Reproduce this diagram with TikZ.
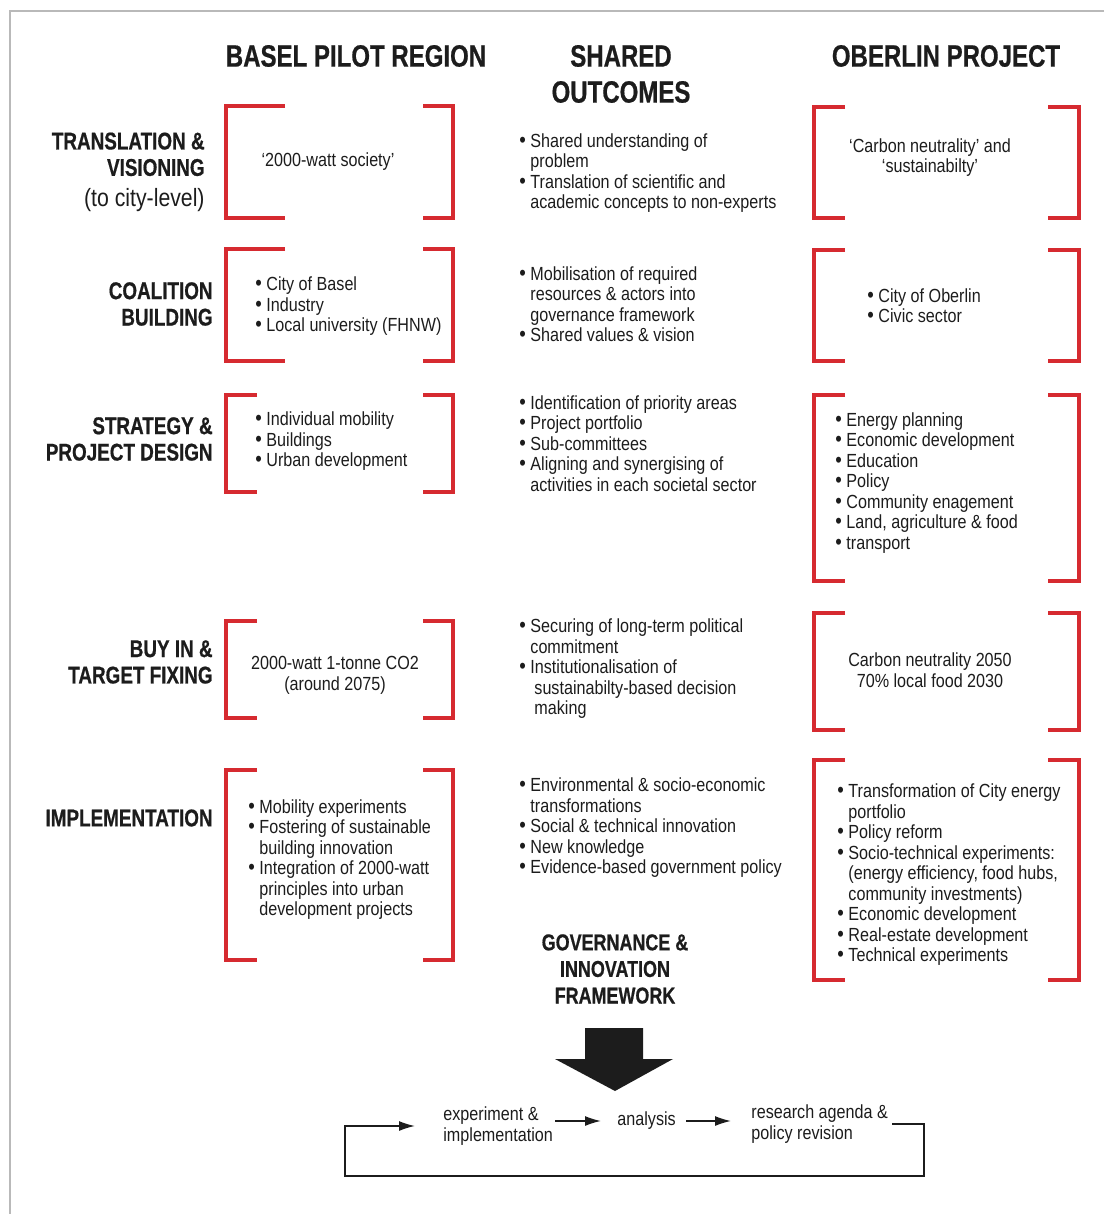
\documentclass[tikz,border=0pt]{standalone}
\usepackage{fontspec}
\setmainfont{Liberation Sans}[FakeStretch=0.85]
\newfontfamily\headf{Liberation Sans}[FakeStretch=0.78, BoldFeatures={FakeBold=0.6}]
\usetikzlibrary{arrows.meta}

\definecolor{ink}{HTML}{1C1C1C}
\definecolor{brk}{RGB}{214,42,48}

\newcommand{\bul}{{\fontsize{11}{0}\selectfont\textbullet}\ }
\newcommand{\contd}{\hphantom{{\fontsize{11}{0}\selectfont\textbullet}\ }}

\tikzset{
  txt/.style={font=\fontsize{9.5}{10.25}\selectfont, align=left, anchor=west, yshift=-1pt},
  ctr/.style={font=\fontsize{9.5}{10.25}\selectfont, align=center, yshift=-1pt},
  lbl/.style={font=\headf\bfseries\fontsize{12.1}{13.2}\selectfont, align=right, anchor=east},
  head/.style={font=\headf\bfseries\fontsize{15.4}{18}\selectfont, align=center},
  bracket/.style={draw=brk, line width=1.75pt},
  flow/.style={-{Latex[length=8pt,width=5pt]}, line width=0.75pt, draw=ink}
}

\begin{document}
\begin{tikzpicture}[x=0.5pt,y=-0.5pt, every node/.style={inner sep=0pt, text=ink}]
  \useasboundingbox (0,0) rectangle (1104,1214);
  % frame
  \draw[gray!55, line width=0.75pt] (1104,11) -- (10,11) -- (10,1214);

  % column heads
  \node[head] (basel) at (356,56) {BASEL PILOT REGION};
  \node[head] (shared) at (621,74) {SHARED\\OUTCOMES};
  \node[head] (oberlin) at (946,56) {OBERLIN PROJECT};

  % row labels
  \node[lbl] (trans) at (205,172) {TRANSLATION \&\\VISIONING\\[2pt]
    {\normalfont\fontsize{12.5}{14}\selectfont (to city-level)}};
  \node[lbl] (coal) at (213,304) {COALITION\\BUILDING};
  \node[lbl] (strat) at (213,439) {STRATEGY \&\\PROJECT DESIGN};
  \node[lbl] (buyin) at (213,662) {BUY IN \&\\TARGET FIXING};
  \node[lbl] (impl) at (213,818) {IMPLEMENTATION};

  % brackets, Basel
  \foreach \t/\b/\a in {106/218/59, 249/361/59, 395/492/31, 621/718/31, 770/960/31} {
    \draw[bracket] (226+\a,\t) -- (226,\t) -- (226,\b) -- (226+\a,\b);
    \draw[bracket] (423,\t) -- (453,\t) -- (453,\b) -- (423,\b);
  }
  % brackets, Oberlin
  \foreach \t/\b in {107/218, 250/361, 395/581, 613/730, 760/980} {
    \draw[bracket] (845,\t) -- (814,\t) -- (814,\b) -- (845,\b);
    \draw[bracket] (1048,\t) -- (1079,\t) -- (1079,\b) -- (1048,\b);
  }

  % Basel
  \node[ctr] (b1) at (328,160) {`2000-watt society'};
  \node[txt] (b2) at (255,304.5) {\bul City of Basel\\\bul Industry\\\bul Local university (FHNW)};
  \node[txt] (b3) at (255,439.5) {\bul Individual mobility\\\bul Buildings\\\bul Urban development};
  \node[ctr] (b4) at (335,673.5) {2000-watt 1-tonne CO2\\(around 2075)};
  \node[txt] (b5) at (248,857.5) {\bul Mobility experiments\\\bul Fostering of sustainable\\
    \contd building innovation\\\bul Integration of 2000-watt\\\contd principles into urban\\
    \contd development projects};

  % shared outcomes
  \node[txt] (s1) at (519,171) {\bul Shared understanding of\\\contd problem\\
    \bul Translation of scientific and\\\contd academic concepts to non-experts};
  \node[txt] (s2) at (519,302) {\bul Mobilisation of required\\\contd resources \& actors into\\
    \contd governance framework\\\bul Shared values \& vision};
  \node[txt] (s3) at (519,441.5) {\bul Identification of priority areas\\\bul Project portfolio\\
    \bul Sub-committees\\\bul Aligning and synergising of\\\contd activities in each societal sector};
  \node[txt] (s4) at (519,667) {\bul Securing of long-term political\\\contd commitment\\
    \bul Institutionalisation of\\\contd\hspace{2pt}sustainabilty-based decision\\\contd\hspace{2pt}making};
  \node[txt] (s5) at (519,826) {\bul Environmental \& socio-economic\\\contd transformations\\
    \bul Social \& technical innovation\\\bul New knowledge\\\bul Evidence-based government policy};

  % Oberlin
  \node[ctr] (o1) at (930,155.5) {`Carbon neutrality' and\\`sustainabilty'};
  \node[txt] (o2) at (867,303.5) {\bul City of Oberlin\\\bul Civic sector};
  \node[txt] (o3) at (835,481) {\bul Energy planning\\\bul Economic development\\\bul Education\\
    \bul Policy\\\bul Community enagement\\\bul Land, agriculture \& food\\\bul transport};
  \node[ctr] (o4) at (930,668) {Carbon neutrality 2050\\70\% local food 2030};
  \node[txt] (o5) at (837,873) {\bul Transformation of City energy\\\contd portfolio\\\bul Policy reform\\
    \bul Socio-technical experiments:\\\contd (energy efficiency, food hubs,\\\contd community investments)\\
    \bul Economic development\\\bul Real-estate development\\\bul Technical experiments};

  % framework and cycle
  \node[head, font=\headf\bfseries\fontsize{11.5}{13.3}\selectfont] (gov) at (615,969)
    {GOVERNANCE \&\\INNOVATION\\FRAMEWORK};
  \fill[ink] (585,1028) -- (643,1028) -- (643,1059) -- (673,1059) -- (615,1091)
    -- (555,1059) -- (585,1059) -- cycle;

  \node[txt] (exp) at (443,1124) {experiment \&\\implementation};
  \node[txt] (ana) at (617,1119) {analysis};
  \node[txt] (res) at (751,1122) {research agenda \&\\policy revision};
  \coordinate (loopR) at (924,1176);
  \coordinate (loopL) at (345,1176);

  \draw[flow, shorten <=1pt, shorten >=8pt] (exp.east |- ana.west) -- (ana.west);
  \draw[flow, shorten <=5pt, shorten >=10pt] (ana.east) -- (res.west |- ana.east);
  \draw[flow, shorten >=14pt] ([xshift=2pt]res.east) -| (loopR) -- (loopL) |- (exp.west);
\end{tikzpicture}
\end{document}
